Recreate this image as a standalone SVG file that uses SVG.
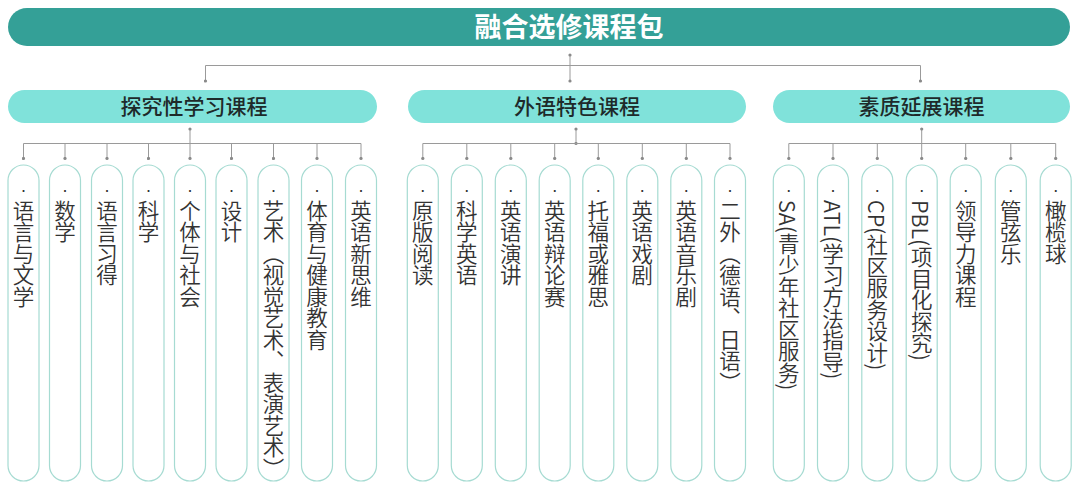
<svg xmlns="http://www.w3.org/2000/svg" width="1080" height="491" viewBox="0 0 1080 491">
<defs>
<marker id="dot" viewBox="0 0 4 4" refX="2" refY="2" markerWidth="4" markerHeight="4" markerUnits="userSpaceOnUse"><circle cx="2" cy="2" r="1.6" fill="#8a8a8a"/></marker>
<style>
.bar{fill:#34a097}
.title{font-family:"Noto Sans CJK SC",sans-serif;font-size:27px;font-weight:700;fill:#ffffff;text-anchor:middle}
.pill{fill:#80e2da}
.ptxt{font-family:"Noto Sans CJK SC",sans-serif;font-size:21px;font-weight:500;fill:#1e2a2a;text-anchor:middle}
.col{fill:#ffffff;stroke:#a6dbd2;stroke-width:1.2}
.vt{font-family:"Noto Sans CJK SC",sans-serif;font-size:21.5px;font-weight:350;fill:#333333;writing-mode:vertical-rl}
.bul{font-family:"Liberation Sans",sans-serif;font-size:18px;fill:#333333;text-anchor:middle}
.ln{fill:none;stroke:#9a9a9a;stroke-width:1}
.dr{fill:none;stroke:#9a9a9a;stroke-width:1;marker-end:url(#dot)}
.st{fill:none;stroke:#9a9a9a;stroke-width:1;marker-start:url(#dot);marker-end:url(#dot)}
</style>
</defs>
<g id="root">
<rect class="bar" x="8" y="8" width="1062" height="38" rx="19"/>
<text class="title" x="569" y="37">融合选修课程包</text>
</g>
<g id="connectors">
<path class="st" d="M570 55 V81"/>
<path class="ln" d="M205.5 65.5 H920.5"/>
<path class="dr" d="M205.5 65.5 V81"/>
<path class="dr" d="M920.5 65.5 V81"/>
<path class="st" d="M190 129 V158.5"/>
<path class="ln" d="M23.5 143.5 H361"/>
<path class="dr" d="M23.5 143.5 V158.5"/><path class="dr" d="M65 143.5 V158.5"/><path class="dr" d="M107 143.5 V158.5"/><path class="dr" d="M148.5 143.5 V158.5"/><path class="dr" d="M231.5 143.5 V158.5"/><path class="dr" d="M273.5 143.5 V158.5"/><path class="dr" d="M317 143.5 V158.5"/><path class="dr" d="M361 143.5 V158.5"/>
<path class="st" d="M576 129 V143.5"/>
<path class="ln" d="M422.8 143.5 H730"/>
<path class="dr" d="M422.8 143.5 V158.5"/><path class="dr" d="M466.8 143.5 V158.5"/><path class="dr" d="M510.8 143.5 V158.5"/><path class="dr" d="M554.7 143.5 V158.5"/><path class="dr" d="M598.3 143.5 V158.5"/><path class="dr" d="M642.3 143.5 V158.5"/><path class="dr" d="M686.3 143.5 V158.5"/><path class="dr" d="M730 143.5 V158.5"/>
<path class="st" d="M921.7 129 V158.5"/>
<path class="ln" d="M788.8 143.5 H1055.7"/>
<path class="dr" d="M788.8 143.5 V158.5"/><path class="dr" d="M833 143.5 V158.5"/><path class="dr" d="M877.3 143.5 V158.5"/><path class="dr" d="M965.7 143.5 V158.5"/><path class="dr" d="M1010.8 143.5 V158.5"/><path class="dr" d="M1055.7 143.5 V158.5"/>
</g>
<g id="cat-1"><rect class="pill" x="8" y="90" width="369" height="33" rx="16.5"/><text class="ptxt" x="194" y="114">探究性学习课程</text></g>
<g id="cat-2"><rect class="pill" x="408" y="90" width="338" height="33" rx="16.5"/><text class="ptxt" x="577" y="114">外语特色课程</text></g>
<g id="cat-3"><rect class="pill" x="773" y="90" width="297" height="33" rx="16.5"/><text class="ptxt" x="921.5" y="114">素质延展课程</text></g>
<g id="c1-1"><rect class="col" x="8" y="165" width="31" height="316" rx="15.5"/><text class="bul" x="23.5" y="196">·</text><text class="vt" x="23.5" y="200">语言与文学</text></g>
<g id="c1-2"><rect class="col" x="49.5" y="165" width="31" height="316" rx="15.5"/><text class="bul" x="65" y="196">·</text><text class="vt" x="65" y="200">数学</text></g>
<g id="c1-3"><rect class="col" x="91.5" y="165" width="31" height="316" rx="15.5"/><text class="bul" x="107" y="196">·</text><text class="vt" x="107" y="200">语言习得</text></g>
<g id="c1-4"><rect class="col" x="133" y="165" width="31" height="316" rx="15.5"/><text class="bul" x="148.5" y="196">·</text><text class="vt" x="148.5" y="200">科学</text></g>
<g id="c1-5"><rect class="col" x="174.5" y="165" width="31" height="316" rx="15.5"/><text class="bul" x="190" y="196">·</text><text class="vt" x="190" y="200">个体与社会</text></g>
<g id="c1-6"><rect class="col" x="216" y="165" width="31" height="316" rx="15.5"/><text class="bul" x="231.5" y="196">·</text><text class="vt" x="231.5" y="200">设计</text></g>
<g id="c1-7"><rect class="col" x="258" y="165" width="31" height="316" rx="15.5"/><text class="bul" x="273.5" y="196">·</text><text class="vt" x="273.5" y="200">艺术（视觉艺术、表演艺术）</text></g>
<g id="c1-8"><rect class="col" x="301.5" y="165" width="31" height="316" rx="15.5"/><text class="bul" x="317" y="196">·</text><text class="vt" x="317" y="200">体育与健康教育</text></g>
<g id="c1-9"><rect class="col" x="345.5" y="165" width="31" height="316" rx="15.5"/><text class="bul" x="361" y="196">·</text><text class="vt" x="361" y="200">英语新思维</text></g>
<g id="c2-1"><rect class="col" x="407.3" y="165" width="31" height="316" rx="15.5"/><text class="bul" x="422.8" y="196">·</text><text class="vt" x="422.8" y="200">原版阅读</text></g>
<g id="c2-2"><rect class="col" x="451.3" y="165" width="31" height="316" rx="15.5"/><text class="bul" x="466.8" y="196">·</text><text class="vt" x="466.8" y="200">科学英语</text></g>
<g id="c2-3"><rect class="col" x="495.3" y="165" width="31" height="316" rx="15.5"/><text class="bul" x="510.8" y="196">·</text><text class="vt" x="510.8" y="200">英语演讲</text></g>
<g id="c2-4"><rect class="col" x="539.2" y="165" width="31" height="316" rx="15.5"/><text class="bul" x="554.7" y="196">·</text><text class="vt" x="554.7" y="200">英语辩论赛</text></g>
<g id="c2-5"><rect class="col" x="582.8" y="165" width="31" height="316" rx="15.5"/><text class="bul" x="598.3" y="196">·</text><text class="vt" x="598.3" y="200">托福或雅思</text></g>
<g id="c2-6"><rect class="col" x="626.8" y="165" width="31" height="316" rx="15.5"/><text class="bul" x="642.3" y="196">·</text><text class="vt" x="642.3" y="200">英语戏剧</text></g>
<g id="c2-7"><rect class="col" x="670.8" y="165" width="31" height="316" rx="15.5"/><text class="bul" x="686.3" y="196">·</text><text class="vt" x="686.3" y="200">英语音乐剧</text></g>
<g id="c2-8"><rect class="col" x="714.5" y="165" width="31" height="316" rx="15.5"/><text class="bul" x="730" y="196">·</text><text class="vt" x="730" y="200">二外（德语、日语）</text></g>
<g id="c3-1"><rect class="col" x="773.3" y="165" width="31" height="316" rx="15.5"/><text class="bul" x="788.8" y="196">·</text><text class="vt" x="788.8" y="200">SA(青少年社区服务)</text></g>
<g id="c3-2"><rect class="col" x="817.5" y="165" width="31" height="316" rx="15.5"/><text class="bul" x="833" y="196">·</text><text class="vt" x="833" y="200">ATL(学习方法指导)</text></g>
<g id="c3-3"><rect class="col" x="861.8" y="165" width="31" height="316" rx="15.5"/><text class="bul" x="877.3" y="196">·</text><text class="vt" x="877.3" y="200">CP(社区服务设计)</text></g>
<g id="c3-4"><rect class="col" x="906.2" y="165" width="31" height="316" rx="15.5"/><text class="bul" x="921.7" y="196">·</text><text class="vt" x="921.7" y="200">PBL(项目化探究)</text></g>
<g id="c3-5"><rect class="col" x="950.2" y="165" width="31" height="316" rx="15.5"/><text class="bul" x="965.7" y="196">·</text><text class="vt" x="965.7" y="200">领导力课程</text></g>
<g id="c3-6"><rect class="col" x="995.3" y="165" width="31" height="316" rx="15.5"/><text class="bul" x="1010.8" y="196">·</text><text class="vt" x="1010.8" y="200">管弦乐</text></g>
<g id="c3-7"><rect class="col" x="1040.2" y="165" width="31" height="316" rx="15.5"/><text class="bul" x="1055.7" y="196">·</text><text class="vt" x="1055.7" y="200">橄榄球</text></g>
</svg>
